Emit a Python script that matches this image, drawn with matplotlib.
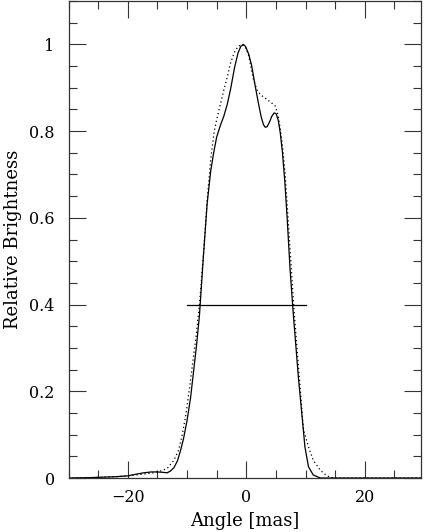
import matplotlib
matplotlib.use("Agg")
import matplotlib.pyplot as plt
from matplotlib.ticker import MultipleLocator

# solid profile
solid_x = [-30, -26, -24, -22, -20, -18.5, -17.3, -16, -15, -14, -13.35, -12.8, -12.2,
           -11.6, -11.1, -10.6, -10.0, -9.4, -8.9, -8.4, -7.9, -7.2, -6.6, -6.0,
           -5.5, -5.0, -4.4, -3.8, -3.2, -2.6, -2.0, -1.4, -0.9, -0.5, -0.1, 0.4,
           0.9, 1.5, 2.0, 2.5, 2.9, 3.2, 3.5, 3.9, 4.3, 4.7, 5.05, 5.4, 5.75, 6.1,
           6.5, 6.9, 7.4, 7.9, 8.4, 8.8, 9.4, 9.9, 10.5, 11.3, 12.5, 16, 22, 30]
solid_y = [0.0, 0.001, 0.002, 0.003, 0.005, 0.009, 0.012, 0.014, 0.014, 0.013, 0.012,
           0.016, 0.024, 0.040, 0.063, 0.090, 0.132, 0.185, 0.245, 0.305, 0.375,
           0.518, 0.633, 0.708, 0.750, 0.786, 0.812, 0.834, 0.862, 0.900, 0.945,
           0.980, 0.996, 1.000, 0.995, 0.978, 0.952, 0.905, 0.868, 0.834, 0.815,
           0.809, 0.810, 0.820, 0.834, 0.842, 0.840, 0.825, 0.795, 0.752, 0.685,
           0.600, 0.480, 0.385, 0.300, 0.232, 0.145, 0.072, 0.026, 0.007, 0.0,
           0.0, 0.0, 0.0]

# dotted model profile
dot_x = [-30, -26, -22, -20, -18, -16, -14.5, -13.35, -12.2, -11.4, -10.8, -10.2,
         -9.6, -9.0, -8.4, -7.9, -7.2, -6.6, -6.0, -5.4, -4.9, -4.3, -3.8, -3.2,
         -2.7, -2.0, -1.4, -0.7, -0.2, 0.4, 1.2, 1.8, 2.4, 3.0, 3.6, 4.2, 4.9,
         5.4, 5.8, 6.2, 6.6, 7.0, 7.5, 8.0, 8.5, 9.0, 9.65, 10.5, 11.3, 12.5,
         13.6, 14.7, 20, 30]
dot_y = [0.0, 0.001, 0.003, 0.005, 0.008, 0.011, 0.016, 0.022, 0.041, 0.065, 0.100,
         0.145, 0.205, 0.270, 0.335, 0.400, 0.520, 0.640, 0.735, 0.800, 0.832,
         0.866, 0.894, 0.925, 0.955, 0.982, 0.995, 1.000, 0.995, 0.975, 0.920,
         0.895, 0.884, 0.878, 0.872, 0.866, 0.858, 0.835, 0.800, 0.755, 0.694,
         0.610, 0.505, 0.400, 0.310, 0.225, 0.112, 0.072, 0.041, 0.018, 0.005,
         0.0, 0.0, 0.0]

# half-power width marker
hpw_x = [-10, 10]
hpw_y = [0.4, 0.4]

plt.rcParams['font.family'] = ['DejaVu Serif']
fig = plt.figure(figsize=(4.24, 5.32), dpi=100)
ax = fig.add_axes([0.1616, 0.1015, 0.8314, 0.8965])

ax.plot(solid_x, solid_y, color='black', lw=0.9)
ax.plot(dot_x, dot_y, color='black', lw=0.9, linestyle=(0, (1, 2.2)))
ax.plot(hpw_x, hpw_y, color='black', lw=0.9)

ax.set_xlim(-30, 29.5)
ax.set_ylim(0, 1.1)
ax.xaxis.set_major_locator(MultipleLocator(20))
ax.xaxis.set_minor_locator(MultipleLocator(5))
ax.yaxis.set_major_locator(MultipleLocator(0.2))
ax.yaxis.set_minor_locator(MultipleLocator(0.05))
ax.set_yticks([0, 0.2, 0.4, 0.6, 0.8, 1.0])
ax.set_yticklabels(['0', '0.2', '0.4', '0.6', '0.8', '1'])
ax.set_xticks([-20, 0, 20])
ax.set_xticklabels(['\u221220', '0', '20'])

ax.tick_params(which='both', direction='in', top=True, right=True,
               labelsize=11.5, color='#333333', width=0.8)
ax.tick_params(which='major', length=12, pad=8)
ax.tick_params(axis='y', which='major', pad=10)
ax.tick_params(which='minor', length=6)
for s in ax.spines.values():
    s.set_linewidth(0.9)
    s.set_color('#333333')

ax.set_xlabel('Angle [mas]', fontsize=13, labelpad=4)
ax.set_ylabel('Relative Brightness', fontsize=13, labelpad=5)

fig.savefig('out.png', dpi=100)
